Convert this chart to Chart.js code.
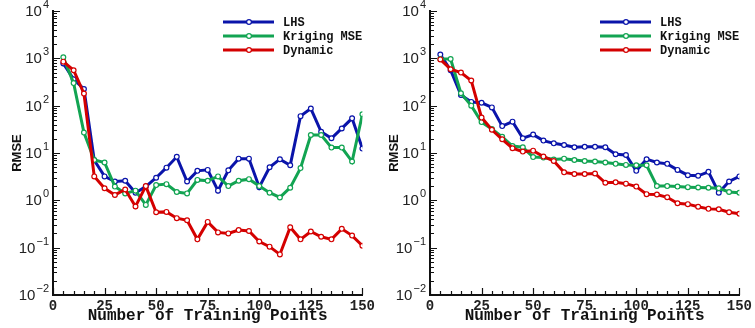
<!DOCTYPE html>
<html>
<head>
<meta charset="utf-8">
<script src="https://cdn.jsdelivr.net/npm/chart.js@4"></script>
<style>
  html, body { margin: 0; padding: 0; background: #fff; }
  #wrap { position: relative; width: 755px; height: 328px; }
  .panel { position: absolute; top: 0; height: 328px; }
</style>
</head>
<body>
<div id="wrap">
  <div class="panel" style="left:0;width:378px"><canvas id="chartLeft"></canvas></div>
  <div class="panel" style="left:377px;width:378px"><canvas id="chartRight"></canvas></div>
</div>
<script>
// training set sizes
const points = [5, 10, 15, 20, 25, 30, 35, 40, 45, 50, 55, 60, 65, 70, 75,
                80, 85, 90, 95, 100, 105, 110, 115, 120, 125, 130, 135, 140, 145, 150];

const seriesNames = ["LHS", "Kriging MSE", "Dynamic"];
const seriesColors = ["#0a14aa", "#12a452", "#d40000"];

// left panel RMSE
const lhsLeft = [780, 360, 225, 7, 3.2, 2.5, 2.6, 1.45, 1.95, 3.0, 4.9, 8.3, 2.5, 4.2, 4.4,
                 1.6, 4.3, 7.6, 7.6, 1.9, 5.0, 7.4, 5.5, 60, 87, 28, 20.5, 33, 54, 12.4];
const krigLeft = [1050, 300, 27, 7.1, 6.3, 1.95, 1.4, 1.6, 0.8, 2.1, 2.2, 1.5, 1.4, 2.7, 2.6,
                  3.2, 2.0, 2.6, 2.8, 2.0, 1.45, 1.15, 1.85, 4.8, 24, 24, 13, 13, 6.6, 66];
const dynLeft = [850, 560, 180, 3.2, 1.8, 1.3, 1.7, 0.74, 2.0, 0.56, 0.57, 0.42, 0.38, 0.15, 0.35,
                 0.21, 0.2, 0.235, 0.225, 0.135, 0.105, 0.072, 0.27, 0.15, 0.22, 0.17, 0.15, 0.25, 0.18, 0.11];

// right panel RMSE
const lhsRight = [1200, 560, 168, 120, 115, 92, 37, 46, 20.5, 24.5, 18.3, 16, 14.8, 13.2, 13.5,
                  13.5, 13.2, 9.4, 9.1, 4.2, 7.4, 6.3, 5.9, 4.4, 3.4, 3.3, 4.0, 1.45, 2.5, 3.2];
const krigRight = [970, 970, 183, 100, 45, 32, 22, 14, 13.2, 8.2, 8.0, 7.3, 7.6, 7.1, 6.8,
                   6.6, 6.3, 5.9, 5.6, 5.5, 5.5, 2.0, 2.0, 1.95, 1.9, 1.87, 1.85, 1.8, 1.5, 1.45];
const dynRight = [950, 590, 500, 340, 56, 31, 19.5, 12.6, 10.7, 11.2, 8.4, 6.8, 3.9, 3.6, 3.6,
                  3.7, 2.35, 2.4, 2.25, 1.95, 1.35, 1.33, 1.16, 0.87, 0.83, 0.73, 0.66, 0.65, 0.56, 0.52];

// axis ticks
const xMajor = [0, 25, 50, 75, 100, 125, 150];
const yExponents = [-2, -1, 0, 1, 2, 3, 4];

function logTicks() {
  const ticks = [];
  for (let e = yExponents[0]; e < yExponents[yExponents.length - 1]; e++) {
    for (let m = 1; m <= 9; m++) ticks.push({ value: m * Math.pow(10, e) });
  }
  ticks.push({ value: Math.pow(10, yExponents[yExponents.length - 1]) });
  return ticks;
}

// inward tick marks, 10^n labels and the line+marker legend
const axisDecor = {
  id: "axisDecor",
  afterDraw(chart) {
    const { ctx, chartArea } = chart;
    const xs = chart.scales.x, ys = chart.scales.y;
    ctx.save();
    ctx.strokeStyle = "#111";
    ctx.lineWidth = 1.2;
    ctx.beginPath();
    ys.ticks.forEach(t => {
      const y = Math.round(ys.getPixelForValue(t.value)) + 0.5;
      const major = Math.abs(Math.log10(t.value) - Math.round(Math.log10(t.value))) < 1e-9;
      ctx.moveTo(chartArea.left, y);
      ctx.lineTo(chartArea.left + (major ? 7 : 4), y);
    });
    xs.ticks.forEach(t => {
      const x = Math.round(xs.getPixelForValue(t.value)) + 0.5;
      const major = xMajor.includes(t.value);
      ctx.moveTo(x, chartArea.bottom);
      ctx.lineTo(x, chartArea.bottom - (major ? 7 : 4));
    });
    ctx.stroke();

    // y labels: "10" with raised exponent
    ctx.fillStyle = "#222";
    ctx.textBaseline = "middle";
    yExponents.forEach(e => {
      const y = ys.getPixelForValue(Math.pow(10, e));
      const exp = String(e).replace("-", "\u2212");
      ctx.font = "11px 'Liberation Sans'";
      const ew = ctx.measureText(exp).width;
      const right = chartArea.left - 4;
      ctx.textAlign = "left";
      ctx.fillText(exp, right - ew, y - 6);
      ctx.font = "15px 'Liberation Sans'";
      ctx.textAlign = "right";
      ctx.fillText("10", right - ew - 1, y + 1);
    });

    // legend
    chart.data.datasets.forEach((ds, i) => {
      const y = chartArea.top + 11 + i * 14;
      const x0 = chartArea.left + 170;
      ctx.strokeStyle = ds.borderColor;
      ctx.lineWidth = 3;
      ctx.beginPath();
      ctx.moveTo(x0, y);
      ctx.lineTo(x0 + 51, y);
      ctx.stroke();
      ctx.fillStyle = "#fff";
      ctx.lineWidth = 1.2;
      ctx.beginPath();
      ctx.arc(x0 + 26, y, 2.4, 0, Math.PI * 2);
      ctx.fill();
      ctx.stroke();
      ctx.fillStyle = "#111";
      ctx.font = "bold 12px 'Liberation Mono'";
      ctx.textAlign = "left";
      ctx.fillText(ds.label, x0 + 60, y + 1);
    });
    ctx.restore();
  }
};

function makeChart(id, series, rightPad) {
  const datasets = series.map((vals, i) => ({
    label: seriesNames[i],
    data: points.map((p, j) => ({ x: p, y: vals[j] })),
    borderColor: seriesColors[i],
    backgroundColor: "#fff",
    borderWidth: 3,
    pointRadius: 2.4,
    pointBorderWidth: 1.2,
    pointBackgroundColor: "#fff",
    pointBorderColor: seriesColors[i],
    tension: 0,
    order: series.length - 1 - i
  }));

  return new Chart(document.getElementById(id), {
    type: "line",
    data: { datasets },
    options: {
      responsive: true,
      maintainAspectRatio: false,
      animation: false,
      layout: { padding: { top: 11, right: rightPad, left: 0, bottom: 0 } },
      plugins: { legend: { display: false }, tooltip: { enabled: false } },
      scales: {
        x: {
          type: "linear",
          min: 0,
          max: 150,
          grid: { display: false, drawTicks: false },
          border: { display: true, color: "#111", width: 2 },
          ticks: {
            stepSize: 5,
            autoSkip: false,
            maxRotation: 0,
            padding: 3,
            color: "#222",
            font: { family: "'Liberation Mono'", size: 14, weight: "bold" },
            callback: v => (xMajor.includes(v) ? String(v) : "")
          },
          title: {
            display: true,
            text: "Number of Training Points",
            color: "#111",
            font: { family: "'Liberation Mono'", size: 16, weight: "bold" },
            padding: { top: 0, bottom: 2 }
          },
          afterFit: s => { s.height = 33; }
        },
        y: {
          type: "logarithmic",
          min: 0.01,
          max: 10000,
          grid: { display: false, drawTicks: false },
          border: { display: true, color: "#111", width: 2 },
          ticks: { display: false },
          afterBuildTicks: s => { s.ticks = logTicks(); },
          title: {
            display: true,
            text: "RMSE",
            color: "#111",
            font: { family: "'Liberation Sans'", size: 13, weight: "bold" },
            padding: { top: 10, bottom: 0 }
          },
          afterFit: s => { s.width = 53; }
        }
      }
    },
    plugins: [axisDecor]
  });
}

makeChart("chartLeft", [lhsLeft, krigLeft, dynLeft], 14);
makeChart("chartRight", [lhsRight, krigRight, dynRight], 12);
</script>
</body>
</html>
